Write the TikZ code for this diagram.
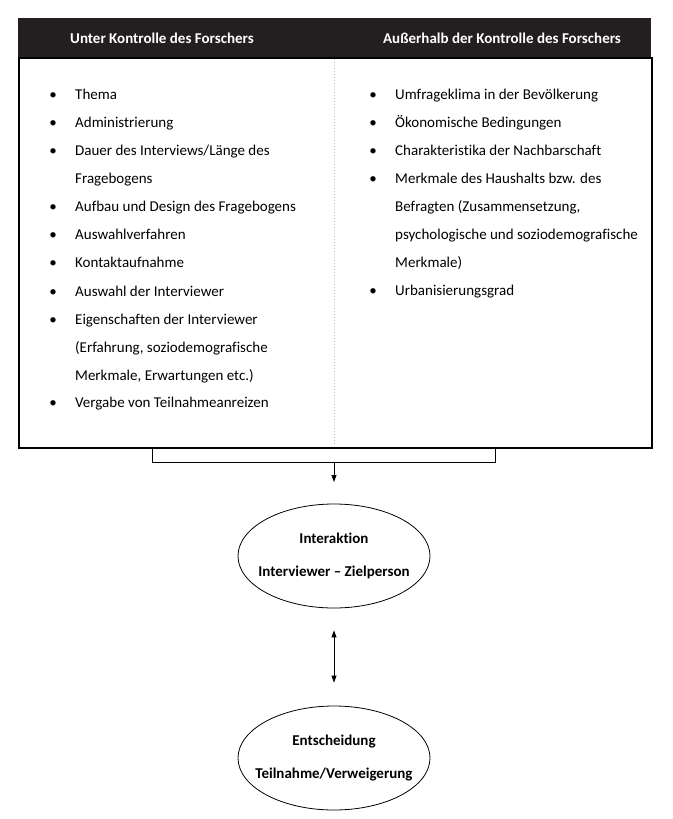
\documentclass[tikz,border=0pt]{standalone}
\usepackage{fontspec}
\setmainfont{Carlito}[Ligatures={NoCommon}]
\usetikzlibrary{shapes.geometric,arrows.meta}
\definecolor{hdr}{HTML}{231F20}
\definecolor{dotc}{HTML}{BBBBBB}
\begin{document}
\begin{tikzpicture}[x=1pt,y=-1pt,
  hdrtext/.style={text=white,font=\fontsize{15}{18}\selectfont\bfseries,inner sep=0pt},
  itemtext/.style={anchor=base west,align=left,inner sep=0pt,font=\fontsize{15}{28}\selectfont},
  bulletmark/.style={anchor=base,inner sep=0pt,font=\fontsize{15}{18}\selectfont},
  ell/.style={ellipse,draw,line width=0.8pt,minimum width=192pt,minimum height=104pt,align=center,font=\fontsize{15}{33}\selectfont\bfseries,inner xsep=-20pt,inner ysep=0pt},
  conn/.style={line width=0.8pt},
  tip/.style={-{Triangle[length=7pt,width=5pt]}}
]
\useasboundingbox (0,0) rectangle (672,819);
% header band
\node[fill=hdr,minimum width=633pt,minimum height=39pt,inner sep=0pt,anchor=north west] (head) at (18,18) {};
\node[hdrtext] (h1) at (162,38) {Unter Kontrolle des Forschers};
\node[hdrtext] (h2) at (502,38) {Außerhalb der Kontrolle des Forschers};
% body box
\node[draw,line width=2pt,minimum width=633pt,minimum height=390pt,inner sep=0pt,anchor=north west] (box) at (18,57) {};
\draw[dotc,dotted,line width=1pt] (334,59) -- (334,445);
% items: #2 = baseline of first line (bullet), #3 = baseline of last line
\newcommand{\bitem}[5]{\node[bulletmark] at (#1-22,#2) {•};\node[itemtext] (#4) at (#1,#3) {#5};}
\bitem{75}{99}{99}{l1}{Thema}
\bitem{75}{127}{127}{l2}{Administrierung}
\bitem{75}{155}{183}{l3}{Dauer des Interviews/Länge des\\Fragebogens}
\bitem{75}{211}{211}{l4}{Aufbau und Design des Fragebogens}
\bitem{75}{239}{239}{l5}{Auswahlverfahren}
\bitem{75}{267}{267}{l6}{Kontaktaufnahme}
\bitem{75}{296}{296}{l7}{Auswahl der Interviewer}
\bitem{75}{324}{380}{l8}{Eigenschaften der Interviewer\\(Erfahrung, soziodemografische\\Merkmale, Erwartungen etc.)}
\bitem{75}{407}{407}{l9}{Vergabe von Teilnahmeanreizen}
% right items
\bitem{395}{99}{99}{r1}{Umfrageklima in der Bevölkerung}
\bitem{395}{127}{127}{r2}{Ökonomische Bedingungen}
\bitem{395}{155}{155}{r3}{Charakteristika der Nachbarschaft}
\bitem{395}{183}{267}{r4}{Merkmale des Haushalts bzw. des\\Befragten (Zusammensetzung,\\psychologische und soziodemografische\\Merkmale)}
\bitem{395}{295}{295}{r5}{Urbanisierungsgrad}
% ellipses
\node[ell] (e1) at (334,556) {Interaktion\\Interviewer – Zielperson};
\node[ell] (e2) at (334,758) {Entscheidung\\Teilnahme/Verweigerung};
% bracket and arrows
\coordinate (bl) at (152,447);
\coordinate (br) at (495,447);
\coordinate (bm) at (334,462);
\coordinate (aend) at (334,482);
\draw[conn] (bl) -- (bl |- bm) -- (br |- bm) -- (br);
\draw[conn,tip] (bm) -- (aend);
\draw[conn,{Triangle[length=7pt,width=5pt]}-{Triangle[length=7pt,width=5pt]},shorten <=22pt,shorten >=23pt] (e1.south) -- (e2.north);
\end{tikzpicture}
\end{document}
